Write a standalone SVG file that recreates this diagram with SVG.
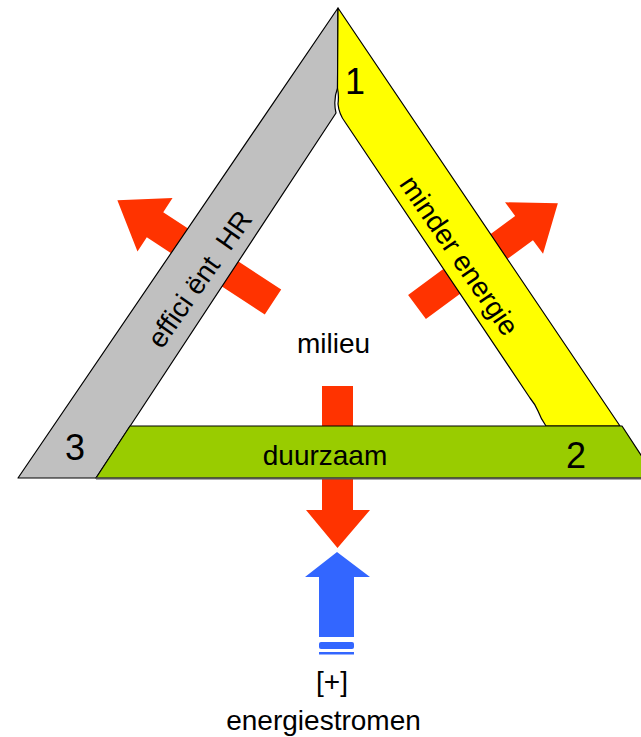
<svg xmlns="http://www.w3.org/2000/svg" width="641" height="737" viewBox="0 0 641 737">
<style>
.band{stroke:#000;stroke-width:1.2;stroke-linejoin:round}
.t{font-family:"Liberation Sans",Arial,sans-serif;font-size:28px;fill:#000}
.num{font-size:36px}
.red{fill:#FF3300}
.blue{fill:#3366FF}
</style>
<rect width="641" height="737" fill="#fff"/>
<g id="connectors">
  <polygon id="arrow-left" class="red" points="0,-15 141,-15 141,-32 186,0 141,32 141,15 0,15" transform="translate(273,302) rotate(-146.8)"/>
  <polygon id="arrow-right" class="red" points="0,-15 133,-15 133,-32 175,0 133,32 133,15 0,15" transform="translate(417,307) rotate(-36.4)"/>
</g>
<g id="band-efficient">
  <path class="band" fill="#C0C0C0" d="M338,8 L337.5,88 Q333,100 336,113 L96,478 L18,478 Z"/>
</g>
<g id="band-minder">
  <path class="band" fill="#FFFF00" d="M338,8 L620,426 L546,426 Q541,419 538,411 Q535,404 530,398 L345,122 Q339,114 338,104 Q339,96 337.5,88 Z"/>
</g>
<g id="connectors-down">
  <polygon id="arrow-down" class="red" points="322,386 353,386 353,510 370,510 337.5,548 306,510 322,510"/>
</g>
<g id="band-duurzaam">
  <path class="band" fill="#99CC00" d="M130,426 L622,426 L656,478 L96,478 Z"/>
  <line x1="96" y1="478.5" x2="641" y2="478.5" stroke="#555" stroke-width="2"/>
</g>
<g id="arrow-energie">
  <polygon class="blue" points="337,552 370,577 354,577 354,637 319,637 319,577 305,577"/>
  <rect class="blue" x="319" y="642" width="35" height="7" rx="2"/>
  <rect class="blue" x="319" y="652" width="35" height="2.5"/>
</g>
<g id="labels">
  <text class="t num" x="355" y="94" text-anchor="middle">1</text>
  <text class="t num" x="576" y="468" text-anchor="middle">2</text>
  <text class="t num" x="75" y="460" text-anchor="middle">3</text>
  <text class="t" x="325" y="465" text-anchor="middle">duurzaam</text>
  <text class="t" x="333.5" y="353" text-anchor="middle">milieu</text>
  <text class="t" x="332" y="691" text-anchor="middle">[+]</text>
  <text class="t" x="323.5" y="730" text-anchor="middle">energiestromen</text>
  <text class="t" xml:space="preserve" style="white-space:pre" text-anchor="middle" transform="translate(207.5,284.5) rotate(-55)">effici ënt  HR</text>
  <text class="t" text-anchor="middle" transform="translate(451.5,261) rotate(55.5)">minder energie</text>
</g>
</svg>
